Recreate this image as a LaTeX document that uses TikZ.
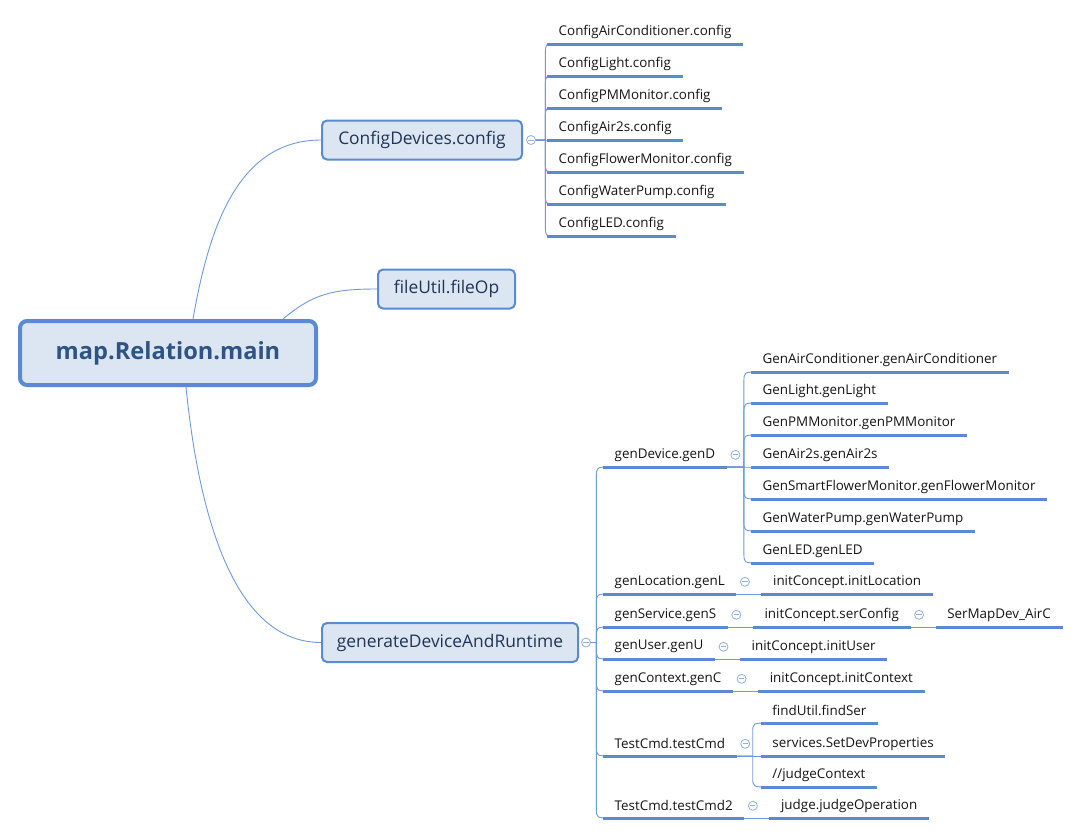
\documentclass[tikz,border=0pt]{standalone}
\usepackage{fontspec}
\setmainfont{Open Sans}
\usetikzlibrary{calc}
\definecolor{lineblue}{HTML}{5A8AD2}
\definecolor{thinblue}{HTML}{6E9ADB}
\definecolor{nodefill}{HTML}{DCE6F2}
\definecolor{navy}{HTML}{1F3456}
\definecolor{rootnavy}{HTML}{2E5384}
\definecolor{circblue}{HTML}{8FB0E0}
\definecolor{leaftext}{HTML}{141414}
\newcommand\branch[3]{%
  \draw[conn] let \p1=(#1), \p2=(#3.south west), \n1={sign(\y1-\y2)} in
   (\p1) -- (\x1+#2,\y1) -- (\x1+#2,\y2+10pt*\n1) .. controls (\x1+#2,\y2) .. (\x2+8pt,\y2);}
\begin{document}
\begin{tikzpicture}[x=1pt,y=-1pt,
  rootbox/.style={draw=lineblue, line width=4pt, fill=nodefill, rounded corners=7pt,
    minimum width=296pt, minimum height=64pt, inner sep=0pt,
    font=\fontsize{23.6}{27}\selectfont\bfseries, text=rootnavy},
  midbox/.style={draw=lineblue, line width=2pt, fill=nodefill, rounded corners=5pt,
    minimum height=39pt, inner sep=0pt, font=\fontsize{17.4}{20}\selectfont, text=navy},
  leaf/.style={anchor=south west, inner xsep=11.5pt, inner ysep=0pt, minimum height=24pt,
    font=\fontsize{13.4}{15}\selectfont, text=leaftext},
  uline/.style={draw=lineblue, line width=3pt},
  conn/.style={draw=thinblue, line width=0.9pt},
  fold/.style={circle, draw=circblue, fill=white, line width=0.8pt, minimum size=9pt, inner sep=0pt,
    path picture={\draw[circblue, line width=0.8pt]
      ([xshift=-2.6pt]path picture bounding box.center) -- ([xshift=2.6pt]path picture bounding box.center);}},
]
\useasboundingbox (0,0) rectangle (1076,836);

% main nodes
\node[rootbox] (root) at (168,353) {map.Relation.main};
\node[midbox, minimum width=200pt] (cfg) at (422,140) {ConfigDevices.config};
\node[midbox, minimum width=137pt] (fu) at (446.5,289) {fileUtil.fileOp};
\node[midbox, minimum width=256pt] (gen) at (450,642.5) {generateDeviceAndRuntime};

\node[fold] (fcfg) at ([xshift=8pt]cfg.east) {};
\node[fold] (fgen) at ([xshift=7pt]gen.east) {};

% ConfigDevices children
\node[leaf] (c1) at (547,44) {ConfigAirConditioner.config};
\node[leaf] (c2) at (547,76) {ConfigLight.config};
\node[leaf] (c3) at (547,108) {ConfigPMMonitor.config};
\node[leaf] (c4) at (547,140) {ConfigAir2s.config};
\node[leaf] (c5) at (547,172) {ConfigFlowerMonitor.config};
\node[leaf] (c6) at (547,204) {ConfigWaterPump.config};
\node[leaf] (c7) at (547,236) {ConfigLED.config};

% generateDeviceAndRuntime children
\node[leaf] (g1) at (603,467) {genDevice.genD};
\node[leaf] (g2) at (603,594) {genLocation.genL};
\node[leaf] (g3) at (603,627) {genService.genS};
\node[leaf] (g4) at (603,659) {genUser.genU};
\node[leaf] (g5) at (603,691) {genContext.genC};
\node[leaf] (g6) at (603,756) {TestCmd.testCmd};
\node[leaf] (g7) at (603,818) {TestCmd.testCmd2};

% genDevice children
\node[leaf] (d1) at ([xshift=24pt,yshift=95pt]g1.south east) {GenAirConditioner.genAirConditioner};
\node[leaf] (d2) at ([xshift=24pt,yshift=64pt]g1.south east) {GenLight.genLight};
\node[leaf] (d3) at ([xshift=24pt,yshift=32pt]g1.south east) {GenPMMonitor.genPMMonitor};
\node[leaf] (d4) at ([xshift=24pt]g1.south east) {GenAir2s.genAir2s};
\node[leaf] (d5) at ([xshift=24pt,yshift=-32pt]g1.south east) {GenSmartFlowerMonitor.genFlowerMonitor};
\node[leaf] (d6) at ([xshift=24pt,yshift=-64pt]g1.south east) {GenWaterPump.genWaterPump};
\node[leaf] (d7) at ([xshift=24pt,yshift=-96pt]g1.south east) {GenLED.genLED};

% chains
\node[leaf] (l1) at ([xshift=25pt]g2.south east) {initConcept.initLocation};
\node[leaf] (s1) at ([xshift=25pt]g3.south east) {initConcept.serConfig};
\node[leaf] (s2) at ([xshift=25pt]s1.south east) {SerMapDev\_AirC};
\node[leaf] (u1) at ([xshift=25pt]g4.south east) {initConcept.initUser};
\node[leaf] (x1) at ([xshift=25pt]g5.south east) {initConcept.initContext};
\node[leaf] (t1) at ([xshift=24pt,yshift=33pt]g6.south east) {findUtil.findSer};
\node[leaf] (t2) at ([xshift=24pt]g6.south east) {services.SetDevProperties};
\node[leaf] (t3) at ([xshift=24pt,yshift=-31pt]g6.south east) {//judgeContext};
\node[leaf] (j1) at ([xshift=25pt]g7.south east) {judge.judgeOperation};

% root connectors
\draw[conn] ([xshift=25pt]root.north) .. controls +(15,-85) and +(-86,0) .. (cfg.west);
\draw[conn] ([xshift=115pt]root.north) .. controls +(30,-25) and +(-45,0) .. (fu.west);
\draw[conn] ([xshift=18pt]root.south) .. controls +(12,120) and +(-90,0) .. (gen.west);

% branches
\foreach \c in {c1,c2,c3,c4,c5,c6,c7} {\branch{fcfg.east}{9.5pt}{\c}}
\foreach \c in {g1,g2,g3,g4,g5,g6,g7} {\branch{fgen.east}{5.5pt}{\c}}
\foreach \c in {d1,d2,d3,d4,d5,d6,d7} {\branch{g1.south east}{17pt}{\c}}
\foreach \c in {t1,t2,t3} {\branch{g6.south east}{16pt}{\c}}
\draw[conn] (g2.south east) -- (l1.south west);
\draw[conn] (g3.south east) -- (s1.south west);
\draw[conn] (s1.south east) -- (s2.south west);
\draw[conn] (g4.south east) -- (u1.south west);
\draw[conn] (g5.south east) -- (x1.south west);
\draw[conn] (g7.south east) -- (j1.south west);

% underlines
\foreach \n in {c1,c2,c3,c4,c5,c6,c7,g1,g2,g3,g4,g5,g6,g7,d1,d2,d3,d4,d5,d6,d7,l1,s1,s2,u1,x1,t1,t2,t3,j1}
  {\draw[uline] (\n.south west) -- (\n.south east);}

% fold markers of the underlined topics
\foreach \n in {g1,g2,g3,g4,g5,g6,g7,s1}
  {\node[fold] (f\n) at ([xshift=8.5pt]\n.east) {};}
\end{tikzpicture}
\end{document}
